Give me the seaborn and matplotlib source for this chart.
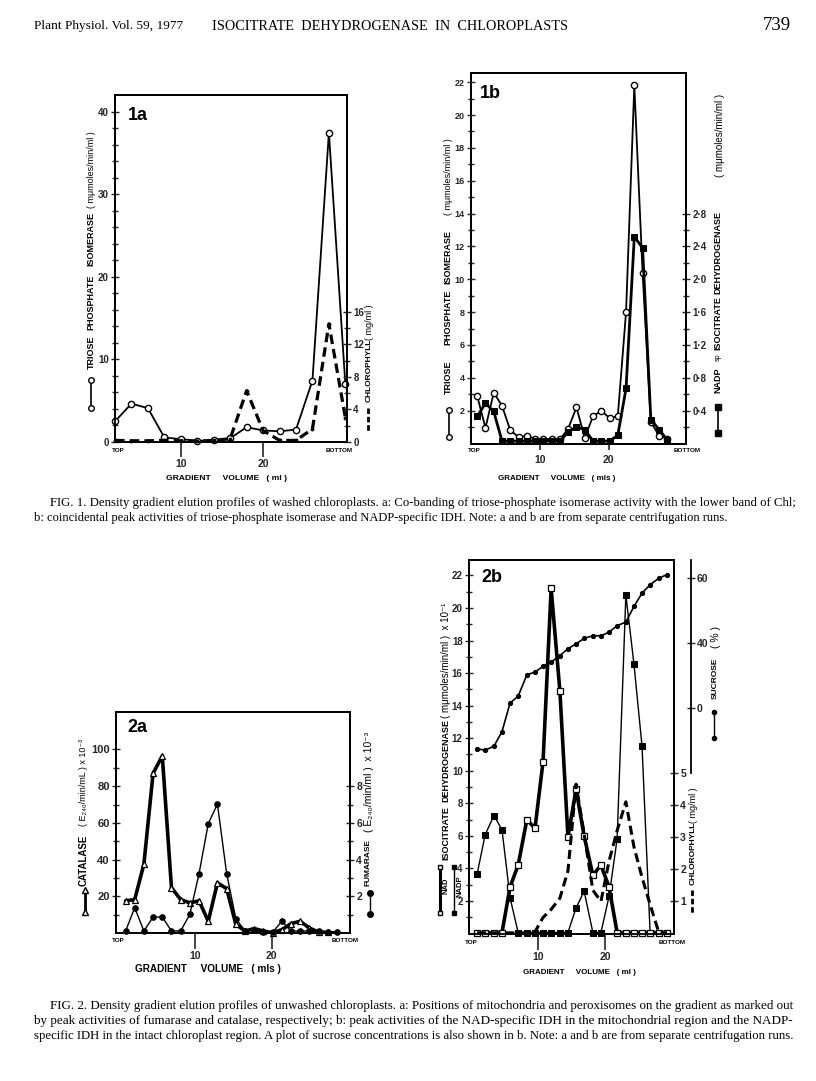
import matplotlib
matplotlib.use("Agg")
import matplotlib.pyplot as plt
from matplotlib.lines import Line2D
from matplotlib.ticker import FixedLocator
import seaborn as sns

# ---------------- data ----------------
vol_1a = [2, 4, 6, 8, 10, 12, 14, 16, 18, 20, 22, 24, 26, 28, 30]
tpi_1a = [2.5, 4.65, 4.1, 0.55, 0.35, 0.15, 0.2, 0.45, 1.8, 1.4, 1.3, 1.5, 7.45, 37.5, 7.0]
chl_1a = [0.2, 0.15, 0.15, 0.2, 0.15, 0.1, 0.2, 0.4, 6.3, 1.4, 0.2, 0.2, 1.6, 14.5, 3.0]

vol_1b = [0.9, 2.1, 3.3, 4.5, 5.7, 6.9, 8.1, 9.3, 10.5, 11.7, 12.9, 14.1,
          15.3, 16.5, 17.7, 18.9, 20.1, 21.3, 22.5, 23.7, 24.9, 26.1, 27.3, 28.5]
tpi_1b = [2.9, 0.95, 3.1, 2.3, 0.8, 0.4, 0.45, 0.3, 0.25, 0.3, 0.25, 0.9,
          2.2, 0.35, 1.65, 2.0, 1.55, 1.65, 8.0, 21.8, 10.4, 1.3, 0.48, 0.3]
nadp_1b = [0.33, 0.49, 0.39, 0.03, 0.03, 0.03, 0.03, 0.03, 0.03, 0.03, 0.03, 0.14,
           0.2, 0.17, 0.03, 0.03, 0.03, 0.1, 0.67, 2.52, 2.38, 0.29, 0.17, 0.04]

vol_2a = [0.9, 2.1, 3.3, 4.5, 5.7, 6.9, 8.1, 9.3, 10.5, 11.7, 12.9, 14.1,
          15.3, 16.5, 17.7, 18.9, 20.1, 21.3, 22.5, 23.7, 24.9, 26.1, 27.3, 28.5]
catalase_2a = [17.5, 18.2, 37.5, 87, 96.5, 24.7, 18.2, 16.4, 17.5, 6.4, 27.3, 24.2,
               4.7, 1.1, 2.4, 1.1, 0.2, 1.8, 5.1, 6.4, 2.7, 0.5, 0.3]
fumarase_2a = [0.09, 1.38, 0.11, 0.87, 0.87, 0.11, 0.11, 1.02, 3.24, 5.96, 7.02, 3.24,
               0.78, 0.11, 0.15, 0.05, 0.04, 0.64, 0.11, 0.11, 0.11, 0.1, 0.07, 0.07]

vol_2b = [1.0, 2.2, 3.5, 4.7, 5.9, 7.1, 8.4, 9.6, 10.8, 12.0, 13.3, 14.5,
          15.7, 16.9, 18.2, 19.4, 20.6, 21.8, 23.1, 24.3, 25.5, 26.7, 28.0, 29.2]
nad_2b = [0.05, 0.05, 0.05, 0.05, 2.86, 4.2, 7.0, 6.46, 10.56, 21.2, 14.9, 5.92,
          8.86, 6.0, 3.58, 4.2, 2.86, 0.06, 0.06, 0.06, 0.06, 0.06, 0.06, 0.06]
nadp_2b = [3.64, 6.07, 7.25, 6.38, 2.2, 0.06, 0.06, 0.06, 0.06, 0.06, 0.06, 0.06,
           1.57, 2.6, 0.06, 0.06, 2.28, 5.8, 20.8, 16.56, 11.52, 0.06, 0.06, 0.06]
chl_2b = [0.02, 0.02, 0.02, 0.02, 0.02, 0.02, 0.02, 0.05, 0.5, 0.75, 1.1, 1.95,
          4.65, 3.1, 1.35, 1.0, 2.25, 3.2, 4.1, 2.7, 1.75, 0.9, 0.03, 0.02]
sucrose_2b = [7.4, 7.0, 8.2, 12.7, 21.5, 23.6, 30.2, 31.0, 32.8, 34.1, 36.1, 38.2,
              39.7, 41.4, 42.2, 42.2, 43.3, 45.3, 46.4, 51.2, 55.3, 57.9, 59.9, 61.0]

# ---------------- setup ----------------
sns.set_theme(style="ticks")
SANS = ['Liberation Sans', 'DejaVu Sans']
SERIF = ['Liberation Serif', 'DejaVu Serif']
plt.rcParams['font.family'] = SANS
plt.rcParams['font.weight'] = 'bold'
plt.rcParams['axes.linewidth'] = 1.3
plt.rcParams['axes.edgecolor'] = 'black'

W, H = 816, 1081
fig = plt.figure(figsize=(W / 100, H / 100), dpi=100, facecolor='white')
renderer = fig.canvas.get_renderer()


def rect(l, t, r, b):
    return [l / W, 1 - b / H, (r - l) / W, (b - t) / H]


def fx(x):
    return x / W


def fy(y):
    return 1 - y / H


def fit(s, x, y, length, ha='center', family=None, weight='bold', base=8.0):
    t = fig.text(fx(x), fy(y), s, ha=ha, va='center', fontsize=base,
                 family=family or SANS, fontweight=weight, color='black')
    ext = t.get_window_extent(renderer).width
    if ext > 0:
        t.set_fontsize(base * length / ext)
    return t


def txt(s, x, y, size=6.5, rot=0, ha='center', weight='bold', family=None):
    return fig.text(fx(x), fy(y), s, rotation=rot, ha=ha, va='center', fontsize=size,
                    family=family or SANS, fontweight=weight, rotation_mode='anchor',
                    color='black')


def vlab(s, x, y, size=6.5, weight='bold'):
    return txt(s, x, y, size=size, rot=90, weight=weight)


def vkey(x, ytop, ybot, marker=None, mfc='white', ls='-', lw=1.2, ms=4):
    ln = Line2D([fx(x), fx(x)], [fy(ytop), fy(ybot)], transform=fig.transFigure,
                color='black', lw=lw, ls=ls, marker=marker, markerfacecolor=mfc,
                markeredgecolor='black', markersize=ms)
    fig.add_artist(ln)


def line(ax, x, y, **kw):
    sns.lineplot(x=x, y=y, ax=ax, color='black', errorbar=None, legend=False,
                 clip_on=False, **kw)
    ax.set_xlabel('')
    ax.set_ylabel('')


def yticks(ax, major, labels, minor=None, size=7.5):
    ax.yaxis.set_major_locator(FixedLocator(major))
    ax.set_yticklabels(labels)
    if minor is not None:
        ax.yaxis.set_minor_locator(FixedLocator(minor))
    ax.tick_params(axis='y', which='major', direction='inout', length=6, width=1,
                   labelsize=size, pad=1.5)
    ax.tick_params(axis='y', which='minor', direction='inout', length=4, width=1)
    for lab in ax.get_yticklabels():
        lab.set_fontweight('bold')


def xticks(ax, length=11, direction='out', pad=1.5):
    ax.set_xticks([10, 20])
    ax.set_xticklabels(['10', '20'])
    ax.tick_params(axis='x', direction=direction, length=length, width=1.2,
                   labelsize=7.5, pad=pad)
    for lab in ax.get_xticklabels():
        lab.set_fontweight('bold')


# ---------------- panel 1a ----------------
ax = fig.add_axes(rect(115, 95, 347, 442))
ax.set_facecolor('none')
line(ax, vol_1a, tpi_1a, linewidth=1.3, marker='o', markerfacecolor='white',
     markeredgecolor='black', markeredgewidth=1, markersize=4.5, zorder=4)
ax.set_xlim(2, 30.2)
ax.set_ylim(0, 42.06)
yticks(ax, [0, 10, 20, 30, 40], ['0', '10', '20', '30', '40'],
       minor=list(range(2, 41, 2)), size=7)
xticks(ax, length=11)
ax2 = ax.twinx()
line(ax2, vol_1a, chl_1a, linewidth=2.3, linestyle=(0, (3, 1.6)), marker='o',
     markerfacecolor='black', markeredgecolor='black', markersize=2, zorder=3)
ax2.set_ylim(0, 42.6)
ax2.set_xlim(2, 30.2)
yticks(ax2, [0, 4, 8, 12, 16], ['0', '4', '8', '12', '16'], minor=[2, 6, 10, 14], size=7)
txt('1a', 138, 115, size=13)
vlab('TRIOSE', 91, 352)
vlab('PHOSPHATE', 91, 302)
vlab('ISOMERASE', 91, 239)
vlab('( mμmoles/min/ml )', 91, 170, weight='normal')
vkey(91, 380, 408, marker='o')
vlab('CHLOROPHYLL', 369, 370, size=6)
vlab('( mg/ml )', 370, 322, weight='normal')
vkey(368, 408, 433, ls=(0, (2, 1)), lw=2)
txt('TOP', 118, 451, size=4.5)
txt('BOTTOM', 339, 451, size=4.5)
fit('GRADIENT     VOLUME   ( ml )', 227, 478, 120)

# ---------------- panel 1b ----------------
ax = fig.add_axes(rect(471, 73, 686, 443.5))
ax.set_facecolor('none')
line(ax, vol_1b, tpi_1b, linewidth=1.3, marker='o', markerfacecolor='white',
     markeredgecolor='black', markeredgewidth=1, markersize=4.5, zorder=4)
ax.set_xlim(0, 31.2)
ax.set_ylim(0, 22.56)
yticks(ax, list(range(2, 23, 2)), [str(v) for v in range(2, 23, 2)],
       minor=list(range(1, 22, 2)), size=6.5)
xticks(ax, length=8, direction='inout', pad=4)
ax2 = ax.twinx()
line(ax2, vol_1b, nadp_1b, linewidth=2.0, marker='s', markerfacecolor='black',
     markeredgecolor='black', markersize=4, zorder=3)
ax2.set_ylim(0, 22.56 / 5)
ax2.set_xlim(0, 31.2)
yticks(ax2, [0.4, 0.8, 1.2, 1.6, 2.0, 2.4, 2.8],
       ['0·4', '0·8', '1·2', '1·6', '2·0', '2·4', '2·8'],
       minor=[0.2, 0.6, 1.0, 1.4, 1.8, 2.2, 2.6], size=7)
txt('1b', 490, 93, size=13)
vlab('TRIOSE', 448, 377)
vlab('PHOSPHATE', 448, 317)
vlab('ISOMERASE', 448, 257)
vlab('( mμmoles/min/ml )', 448, 177, size=6.5, weight='normal')
vkey(449, 410, 437, marker='o')
vlab('NADP', 718, 380)
vlab('sp', 718, 357, size=5, weight='normal')
vlab('ISOCITRATE', 718, 323)
vlab('DEHYDROGENASE', 718, 252)
vlab('( mμmoles/min/ml )', 720, 135, size=7, weight='normal')
vkey(718, 407, 433, marker='s', mfc='black')
txt('TOP', 474, 451, size=4.5)
txt('BOTTOM', 687, 451, size=4.5)
fit('GRADIENT     VOLUME   ( mls )', 557, 478, 118)

# ---------------- panel 2a ----------------
ax = fig.add_axes(rect(116, 712, 350, 933))
ax.set_facecolor('none')
line(ax, vol_2a[:len(catalase_2a)], catalase_2a, linewidth=2.6, marker='^',
     markerfacecolor='white', markeredgecolor='black', markeredgewidth=0.9,
     markersize=4.5, zorder=4)
ax.set_xlim(-0.34, 30.2)
ax.set_ylim(0, 120.4)
yticks(ax, [20, 40, 60, 80, 100], ['20', '40', '60', '80', '100'],
       minor=[10, 30, 50, 70, 90], size=8)
xticks(ax, length=11.5)
ax2 = ax.twinx()
line(ax2, vol_2a, fumarase_2a, linewidth=1.0, marker='o', markerfacecolor='black',
     markeredgecolor='black', markersize=4, zorder=3)
ax2.set_ylim(0, 12.04)
ax2.set_xlim(-0.34, 30.2)
yticks(ax2, [2, 4, 6, 8], ['2', '4', '6', '8'], minor=[1, 3, 5, 7])
txt('2a', 137, 728, size=13)
vlab('CATALASE', 84, 860, size=7)
vlab('( E₂₄₀/min/mL ) x 10⁻³', 84, 782, size=6.5, weight='normal')
vkey(85, 890, 912, marker='^', lw=2)
vlab('FUMARASE', 368, 863, size=6)
vlab('( E₂₄₀/min/ml )  x 10⁻³', 369, 782, size=7.5, weight='normal')
vkey(370, 893, 914, marker='o', mfc='black', lw=1)
txt('TOP', 118, 941, size=4.5)
txt('BOTTOM', 345, 941, size=4.5)
fit('GRADIENT     VOLUME   ( mls )', 208, 969, 148)

# ---------------- panel 2b ----------------
ax = fig.add_axes(rect(469, 560, 674, 933.5))
ax.set_facecolor('none')
line(ax, vol_2b, nad_2b, linewidth=2.6, marker='s', markerfacecolor='white',
     markeredgecolor='black', markeredgewidth=0.9, markersize=3.8, zorder=5)
line(ax, vol_2b, nadp_2b, linewidth=1.0, marker='s', markerfacecolor='black',
     markeredgecolor='black', markersize=3.8, zorder=4)
ax.set_xlim(-0.2, 30.25)
ax.set_ylim(0, 22.95)
yticks(ax, list(range(2, 23, 2)), [str(v) for v in range(2, 23, 2)],
       minor=list(range(1, 22, 2)), size=7)
xticks(ax, length=11.5)
axc = ax.twinx()
line(axc, vol_2b, chl_2b, linewidth=2.2, linestyle=(0, (3, 1.6)), zorder=3)
axc.set_ylim(0, 11.63)
axc.set_xlim(-0.2, 30.25)
yticks(axc, [1, 2, 3, 4, 5], ['1', '2', '3', '4', '5'])
axs = ax.twinx()
line(axs, vol_2b, sucrose_2b, linewidth=1.2, marker='o', markerfacecolor='black',
     markeredgecolor='black', markersize=3, zorder=3)
axs.set_ylim(-49.4, 65.5)
axs.set_xlim(-0.2, 30.25)
for k in ('top', 'bottom', 'left'):
    axs.spines[k].set_visible(False)
axs.spines['right'].set_position(('outward', 12))
axs.spines['right'].set_bounds(0, 65.5)
yticks(axs, [20, 40, 60], ['0', '40', '60'])
txt('2b', 492, 577, size=13)
vlab('ISOCITRATE', 446, 833)
vlab('DEHYDROGENASE', 446, 761)
vlab('( mμmoles/min/ml )  x 10⁻¹', 446, 660, size=7, weight='normal')
vkey(440, 867, 913, marker='s', lw=2.2, ms=3.5)
vlab('NAD', 446, 886, size=5.5)
vkey(454, 867, 913, marker='s', mfc='black', lw=1, ms=3.5)
vlab('NADP', 460, 886, size=5.5)
vlab('CHLOROPHYLL', 693, 853, size=6)
vlab('( mg/ml )', 694, 805, weight='normal')
vkey(692, 890, 915, ls=(0, (2, 1)), lw=2)
vlab('SUCROSE', 715, 678, size=6)
vlab('( % )', 716, 637, size=7.5, weight='normal')
vkey(714, 712, 738, marker='o', mfc='black', lw=1, ms=3)
txt('TOP', 471, 942, size=4.5)
txt('BOTTOM', 672, 942, size=4.5)
fit('GRADIENT     VOLUME   ( ml )', 579, 972, 114)

# ---------------- page text ----------------
fit('Plant Physiol. Vol. 59, 1977', 34, 26, 150, ha='left', family=SERIF, weight='normal', base=10)
fit('ISOCITRATE  DEHYDROGENASE  IN  CHLOROPLASTS', 212, 26, 356, ha='left', family=SERIF, weight='normal', base=10)
fit('739', 763, 26, 28, ha='left', family=SERIF, weight='normal', base=10)

fit('FIG. 1. Density gradient elution profiles of washed chloroplasts. a: Co-banding of '
    'triose-phosphate isomerase activity with the lower band of Chl;',
    50, 503, 745, ha='left', family=SERIF, weight='normal', base=9)
fit('b: coincidental peak activities of triose-phosphate isomerase and NADP-specific IDH. '
    'Note: a and b are from separate centrifugation runs.',
    34, 518, 693, ha='left', family=SERIF, weight='normal', base=9)
fit('FIG. 2. Density gradient elution profiles of unwashed chloroplasts. a: Positions of '
    'mitochondria and peroxisomes on the gradient as marked out',
    50, 1006, 747, ha='left', family=SERIF, weight='normal', base=9)
fit('by peak activities of fumarase and catalase, respectively; b: peak activities of the '
    'NAD-specific IDH in the mitochondrial region and the NADP-',
    34, 1021, 763, ha='left', family=SERIF, weight='normal', base=9)
fit('specific IDH in the intact chloroplast region. A plot of sucrose concentrations is also '
    'shown in b. Note: a and b are from separate centrifugation runs.',
    34, 1036, 763, ha='left', family=SERIF, weight='normal', base=9)

fig.savefig('out.png', dpi=100, facecolor='white')
